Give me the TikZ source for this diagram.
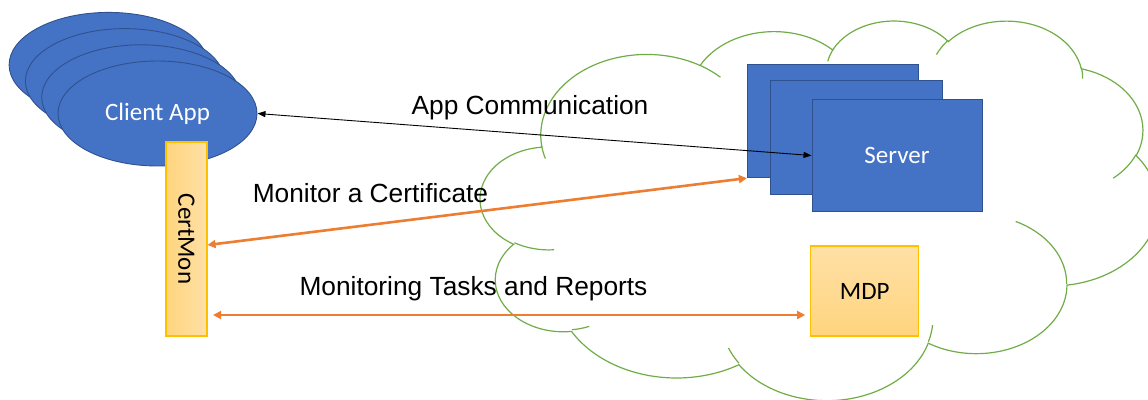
\documentclass[tikz,border=0pt]{standalone}
\usepackage{fontspec}
\setmainfont{Carlito}
\newfontfamily\arialfont{Liberation Sans}
\usetikzlibrary{shapes.geometric,arrows.meta}
\definecolor{accblue}{HTML}{4472C4}
\definecolor{blueedge}{HTML}{2F528F}
\definecolor{accorange}{HTML}{ED7D31}
\definecolor{goldedge}{HTML}{FFC000}
\definecolor{goldlight}{HTML}{FFE0A6}
\definecolor{golddark}{HTML}{FFD47E}
\definecolor{cloudgreen}{HTML}{70AD47}
\begin{document}
\begin{tikzpicture}[x=1pt,y=-1pt,
  clientell/.style={ellipse, draw=blueedge, fill=accblue, line width=0.9pt, minimum width=199pt, minimum height=105pt, inner sep=0pt},
  serverbox/.style={rectangle, draw=blueedge, fill=accblue, line width=0.9pt, inner sep=0pt},
  goldbox/.style={rectangle, draw=goldedge, line width=1.1pt, inner sep=0pt},
  cloudline/.style={draw=cloudgreen, line width=1.2pt},
  boxtext/.style={font=\fontsize{25}{30}\selectfont},
  arrowtext/.style={font=\arialfont\fontsize{26.3}{31}\selectfont, inner sep=0pt, anchor=base},
  blackarrow/.style={draw=black, line width=0.9pt, {Triangle[length=8pt,width=6pt]}-{Triangle[length=8pt,width=6pt]}},
  orangearrow/.style={draw=accorange, line width=2.6pt, {Triangle[length=8pt,width=8pt]}-{Triangle[length=8pt,width=8pt]}},
]
\useasboundingbox (0,0) rectangle (1148,399);
\clip (0,0) rectangle (1148,399);

% cloud outline
\draw[cloudline] (541.74,146.04)
  arc[start angle=172.25, end angle=300.36, x radius=105.87, y radius=80.73]
  arc[start angle=207.98, end angle=314.55, x radius=83.61, y radius=63.84]
  arc[start angle=206.51, end angle=322.68, x radius=68.43, y radius=52.23]
  arc[start angle=220.28, end angle=349.78, x radius=76.15, y radius=57.94]
  arc[start angle=-74.77, end angle=23.22, x radius=83.61, y radius=63.89]
  arc[start angle=-37.51, end angle=81.87, x radius=106.22, y radius=81.00]
  arc[start angle=0.46, end angle=121.98, x radius=90.70, y radius=69.11]
  arc[start angle=16.84, end angle=146.22, x radius=105.86, y radius=80.95]
  arc[start angle=58.97, end angle=150.18, x radius=121.03, y radius=92.62]
  arc[start angle=83.31, end angle=223.12, x radius=68.36, y radius=51.99]
  arc[start angle=120.35, end angle=264.11, x radius=68.12, y radius=52.23]
  -- cycle;
% cloud inner arcs
\draw[cloudline] (554.18,249.77) arc[start angle=85.54, end angle=120.35, x radius=68.12, y radius=52.23];
\draw[cloudline] (589.22,326.39) arc[start angle=68.25, end angle=83.31, x radius=68.36, y radius=51.99];
\draw[cloudline] (738.94,363.21) arc[start angle=146.22, end angle=158.47, x radius=105.86, y radius=80.95];
\draw[cloudline] (932.55,325.09) arc[start angle=4.74, end angle=16.84, x radius=105.86, y radius=80.95];
\draw[cloudline] (1015.67,221.45) arc[start angle=-64.03, end angle=0.46, x radius=90.70, y radius=69.11];
\draw[cloudline] (1135.91,154.69) arc[start angle=23.22, end angle=49.64, x radius=83.61, y radius=63.89];
\draw[cloudline] (1081.44,67.47) arc[start angle=-10.22, end angle=0.82, x radius=76.15, y radius=57.94];
\draw[cloudline] (936.49,54.52) arc[start angle=203.70, end angle=220.28, x radius=76.15, y radius=57.94];
\draw[cloudline] (827.73,61.27) arc[start angle=192.28, end angle=206.51, x radius=68.43, y radius=52.23];
\draw[cloudline] (700.09,65.41) arc[start angle=-59.64, end angle=-45.74, x radius=105.87, y radius=80.73];
\draw[cloudline] (545.30,158.51) arc[start angle=163.19, end angle=172.25, x radius=105.87, y radius=80.73];

% client apps
\node[clientell] (cl1) at (108.6,64.9) {};
\node[clientell] (cl2) at (124.9,81.1) {};
\node[clientell] (cl3) at (141.2,97.3) {};
\node[clientell, boxtext, text=white] (cl4) at (157.5,113.5) {Client App};

% servers
\node[serverbox, minimum width=171.4pt, minimum height=113.7pt] (srv1) at (833,120.85) {};
\node[serverbox, minimum width=171.6pt, minimum height=114pt] (srv2) at (856.5,137) {};
\node[serverbox, minimum width=170pt, minimum height=112.4pt, boxtext, text=white] (srv3) at (897,155.5) {Server};

% MDP and CertMon
\node[goldbox, top color=goldlight, bottom color=golddark, minimum width=108pt, minimum height=90pt, boxtext] (mdp) at (864.7,291) {MDP};
\node[goldbox, left color=golddark, right color=goldlight, minimum width=41pt, minimum height=194pt, boxtext] (cm) at (186.5,239) {\rotatebox{-90}{CertMon}};

% connectors
\draw[blackarrow] (cl4.east) -- (srv3.west);
\draw[orangearrow] ([yshift=-6pt]cm.east) -- (srv1.south west);
\draw[orangearrow] ([xshift=5.5pt,yshift=-76pt]cm.east) -- ([xshift=-5pt,yshift=-24pt]mdp.west);

% labels
\node[arrowtext] (lbl1) at (530,114.3) {App Communication};
\node[arrowtext] (lbl2) at (370.5,202) {Monitor a Certificate};
\node[arrowtext] (lbl3) at (473.5,295) {Monitoring Tasks and Reports};
\end{tikzpicture}
\end{document}
